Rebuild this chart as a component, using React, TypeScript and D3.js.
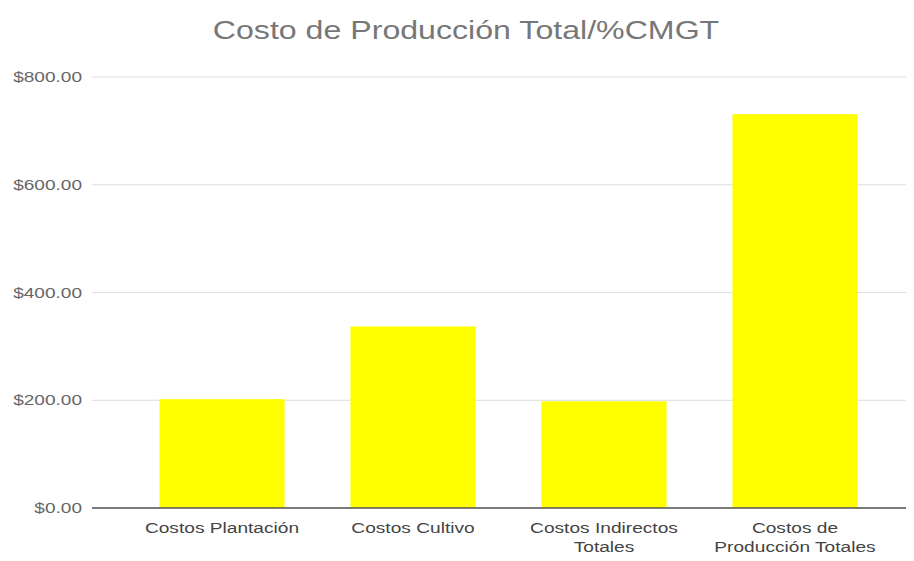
import React from "react";
import * as d3 from "d3";

const categories: string[][] = [
  ["Costos Plantación"],
  ["Costos Cultivo"],
  ["Costos Indirectos", "Totales"],
  ["Costos de", "Producción Totales"],
];
const categoryKeys = ["Costos Plantación", "Costos Cultivo", "Costos Indirectos Totales", "Costos de Producción Totales"];
const values = [202, 337, 198, 731];
const yTicks = [0, 200, 400, 600, 800];
const title = "Costo de Producción Total/%CMGT";

export default function App() {
  const W = 914, H = 561;
  const y = d3.scaleLinear().domain([0, 800]).range([508, 77]);
  const x = d3.scaleBand<string>().domain(categoryKeys).range([127, 890]).paddingInner(0.345).paddingOuter(0.17);
  const fmt = (v: number) => "$" + d3.format(",.2f")(v);
  const font = "'Liberation Sans', Arial, sans-serif";
  return (
    <svg width={W} height={H} style={{ position: "absolute", left: 0, top: 0, background: "#fff" }}>
      <text transform={`translate(466,39) scale(1.26,1)`} textAnchor="middle" fontFamily={font} fontSize={25.5} fill="#777">{title}</text>
      {yTicks.map((t) => (
        <g key={t}>
          <line x1={92} x2={906} y1={y(t)} y2={y(t)} stroke="#ddd" strokeWidth={1} />
          <text transform={`translate(82,${y(t) + 5}) scale(1.36,1)`} textAnchor="end" fontFamily={font} fontSize={14} fill="#666">{fmt(t)}</text>
        </g>
      ))}
      {categoryKeys.map((c, i) => (
        <rect key={c} x={x(c)} y={y(values[i])} width={x.bandwidth()} height={y(0) - y(values[i])} fill="#ffff00" />
      ))}
      <line x1={92} x2={906} y1={y(0)} y2={y(0)} stroke="#555" strokeWidth={1.5} />
      {categoryKeys.map((c, i) => (
        <text key={c} transform={`translate(${(x(c) as number) + x.bandwidth() / 2},533) scale(1.32,1)`} textAnchor="middle" fontFamily={font} fontSize={14.5} fill="#444">
          {categories[i].map((ln, j) => (
            <tspan key={j} x={0} dy={j === 0 ? 0 : 19}>{ln}</tspan>
          ))}
        </text>
      ))}
    </svg>
  );
}
